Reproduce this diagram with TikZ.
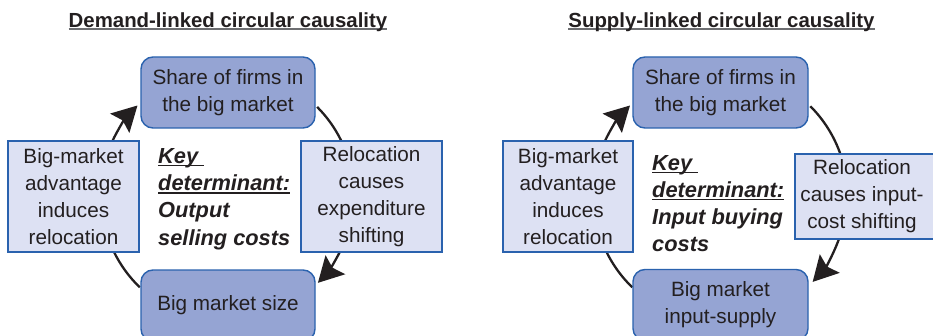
\documentclass[tikz,border=0pt]{standalone}
\usepackage{fontspec}
\setmainfont{Liberation Sans}
\usetikzlibrary{arrows.meta}
\definecolor{dk}{HTML}{231F20}
\definecolor{bord}{HTML}{2A62AE}
\definecolor{darkfill}{HTML}{95A4D3}
\definecolor{lightfill}{HTML}{DDE1F3}
\definecolor{ulgray}{HTML}{6D6E71}
\newcommand\myul[3]{\setbox0\hbox{#3}\rlap{\textcolor{#1}{\rule[-3pt]{\wd0}{#2}}}\box0}
\tikzset{
  boxtext/.style={align=center, inner sep=0pt, text=dk, font=\fontsize{20.7}{27}\selectfont},
  darkbox/.style={boxtext, draw=bord, line width=1.4pt, fill=darkfill, rounded corners=12pt, minimum width=174pt, minimum height=71pt},
  lightbox/.style={boxtext, draw=bord, line width=1.4pt, fill=lightfill, minimum height=111pt},
  keytext/.style={align=left, inner sep=0pt, text=dk, anchor=west, font=\fontsize{21.8}{27.2}\selectfont\bfseries\itshape},
  titletext/.style={inner sep=0pt, text=dk, anchor=base, font=\fontsize{20.4}{24}\selectfont\bfseries},
  conn/.style={draw=dk, line width=2.3pt},
  arr/.style={conn, -{Stealth[length=25pt,width=27pt,inset=4pt]}}
}
\begin{document}
\begin{tikzpicture}[x=1pt,y=1pt]
\useasboundingbox (0,0) rectangle (933,335);
\clip (0,0) rectangle (933,335);
\fill[white] (0,0) rectangle (933,335);
% circle centres
\coordinate (c1) at (228,139);
\coordinate (c2) at (720.5,139);
% left panel connectors
\draw[arr]  ([shift={(155:128)}]c1) arc[start angle=155, end angle=135, radius=128];
\draw[conn] ([shift={(45:126)}]c1) arc[start angle=45, end angle=26, radius=126];
\draw[arr]  ([shift={(-26:125)}]c1) arc[start angle=-26, end angle=-44, radius=125];
\draw[conn] ([shift={(226:127)}]c1) arc[start angle=226, end angle=206, radius=127];
% right panel connectors
\draw[arr]  ([shift={(155:128)}]c2) arc[start angle=155, end angle=135, radius=128];
\draw[conn] ([shift={(45:127)}]c2) arc[start angle=45, end angle=19, radius=127];
\draw[arr]  ([shift={(-19:126)}]c2) arc[start angle=-19, end angle=-43, radius=126];
\draw[conn] ([shift={(226:127)}]c2) arc[start angle=226, end angle=206, radius=127];
% titles
\node[titletext] (t1) at (228,307.7) {\myul{ulgray}{1.8pt}{Demand-linked circular causality}};
\node[titletext] (t2) at (721.5,307.7) {\myul{ulgray}{1.8pt}{Supply-linked circular causality}};
% left panel boxes
\node[darkbox] (T1) at (228,242.5) {Share of firms in\\the big market};
\node[lightbox, minimum width=131pt] (L1) at (73.5,138.5) {Big-market\\advantage\\induces\\relocation};
\node[lightbox, minimum width=141pt] (R1) at (371.5,138.5) {Relocation\\causes\\expenditure\\shifting};
\node[darkbox] (B1) at (228,29.5) {Big market size};
\node[keytext] (K1) at (158,136) {\myul{dk}{1.4pt}{Key\ }\\\myul{dk}{1.4pt}{determinant:}\\Output\\selling costs};
% right panel boxes
\node[darkbox, minimum width=175pt] (T2) at (720.5,242.5) {Share of firms in\\the big market};
\node[lightbox, minimum width=130pt] (L2) at (568,138.5) {Big-market\\advantage\\induces\\relocation};
\node[lightbox, minimum width=145pt, minimum height=85pt] (R2box) at (867.5,138.5) {};
\node[boxtext] (R2) at (862,138.5) {Relocation\\causes input-\\cost shifting};
\node[darkbox, minimum width=175pt] (B2) at (720.5,30) {Big market\\input-supply};
\node[keytext] (K2) at (652,131.5) {\myul{dk}{1.4pt}{Key\ }\\\myul{dk}{1.4pt}{determinant:}\\Input buying\\costs};
\end{tikzpicture}
\end{document}
